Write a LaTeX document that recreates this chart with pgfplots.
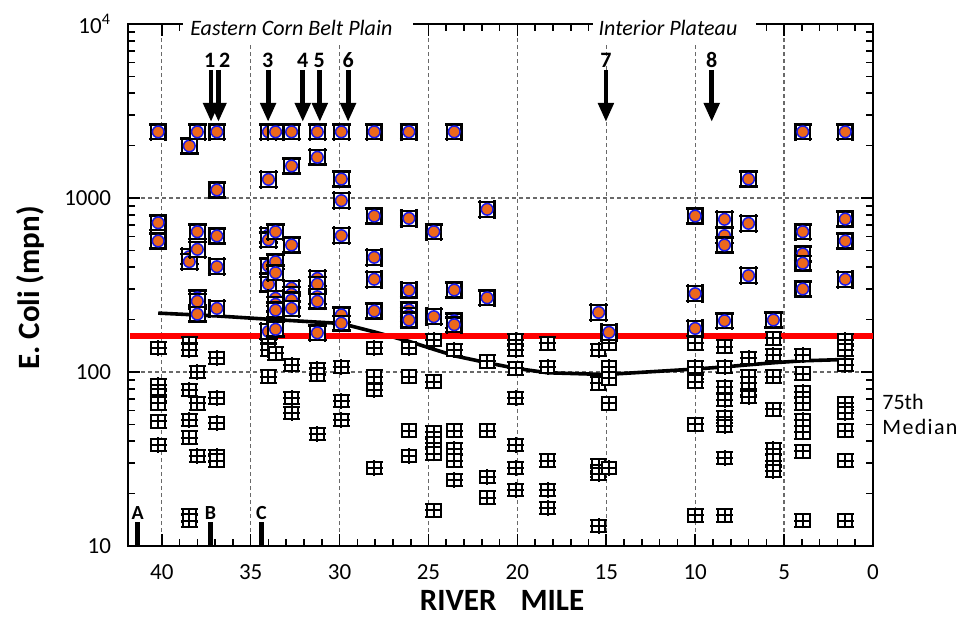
\documentclass[border=0pt]{standalone}
\usepackage{fontspec}
\setmainfont{Carlito}
\usepackage{pgfplots}
\pgfplotsset{compat=1.18}
\usepackage{pgfplotstable}
\usetikzlibrary{arrows.meta}

\definecolor{ecorange}{RGB}{236,104,28}
\definecolor{ecblue}{RGB}{25,25,235}
\definecolor{gridgray}{RGB}{105,105,105}

% exceedance: white box, orange dot with blue rim
\pgfdeclareplotmark{ecoli}{%
  \pgfsetfillcolor{white}\pgfsetstrokecolor{black}\pgfsetlinewidth{1.2pt}%
  \pgfpathrectangle{\pgfqpoint{-3.7pt}{-3.7pt}}{\pgfqpoint{7.4pt}{7.4pt}}%
  \pgfusepathqfillstroke
  \pgfpathmoveto{\pgfqpoint{-4.6pt}{3.7pt}}\pgfpathlineto{\pgfqpoint{4.6pt}{3.7pt}}%
  \pgfpathmoveto{\pgfqpoint{-4.6pt}{-3.7pt}}\pgfpathlineto{\pgfqpoint{4.6pt}{-3.7pt}}%
  \pgfpathmoveto{\pgfqpoint{-3.7pt}{-4.6pt}}\pgfpathlineto{\pgfqpoint{-3.7pt}{4.6pt}}%
  \pgfpathmoveto{\pgfqpoint{3.7pt}{-4.6pt}}\pgfpathlineto{\pgfqpoint{3.7pt}{4.6pt}}%
  \pgfusepathqstroke
  \pgfsetfillcolor{ecorange}\pgfsetstrokecolor{ecblue}\pgfsetlinewidth{0.75pt}%
  \pgfpathcircle{\pgfpointorigin}{2.9pt}%
  \pgfusepathqfillstroke
}
% below the criterion: boxed cross
\pgfdeclareplotmark{nobox}{%
  \pgfsetfillcolor{white}\pgfsetstrokecolor{black}\pgfsetlinewidth{1pt}%
  \pgfpathrectangle{\pgfqpoint{-3.4pt}{-3.1pt}}{\pgfqpoint{6.8pt}{6.2pt}}%
  \pgfusepathqfillstroke
  \pgfpathmoveto{\pgfqpoint{-4.2pt}{3.1pt}}\pgfpathlineto{\pgfqpoint{4.2pt}{3.1pt}}%
  \pgfpathmoveto{\pgfqpoint{-4.2pt}{-3.1pt}}\pgfpathlineto{\pgfqpoint{4.2pt}{-3.1pt}}%
  \pgfpathmoveto{\pgfqpoint{-4.2pt}{0pt}}\pgfpathlineto{\pgfqpoint{4.2pt}{0pt}}%
  \pgfpathmoveto{\pgfqpoint{0pt}{-3.9pt}}\pgfpathlineto{\pgfqpoint{0pt}{3.9pt}}%
  \pgfusepathqstroke
}

% sample results above the criterion (river mile, mpn)
\pgfplotstableread{
mile val
40.2 2400
40.2 721
40.2 566
38.45 1991
38.45 460
38.45 431
38.0 2400
38.0 640
38.0 507
38.0 267
38.0 255
38.0 215
36.9 2400
36.9 1112
36.9 605
36.9 403
36.9 232
34.0 2400
34.0 1279
34.0 612
34.0 575
34.0 407
34.0 320
34.0 171
33.6 2400
33.6 640
33.6 430
33.6 372
33.6 265
33.6 245
33.6 227
33.6 176
32.7 2400
32.7 1528
32.7 537
32.7 303
32.7 280
32.7 259
32.7 232
31.25 2400
31.25 1714
31.25 345
31.25 320
31.25 271
31.25 255
31.25 168
29.9 2400
29.9 1285
29.9 966
29.9 608
29.9 213
29.9 191
28.05 2400
28.05 788
28.05 456
28.05 341
28.05 224
26.1 2400
26.1 764
26.1 295
26.1 227
26.1 212
26.1 199
24.7 640
24.7 208
23.55 2400
23.55 296
23.55 197
23.55 187
21.7 861
21.7 267
15.43 220
14.85 169
10.0 788
10.0 282
10.0 178
8.35 754
8.35 608
8.35 537
8.35 197
7.0 1285
7.0 715
7.0 358
5.6 199
3.95 2400
3.95 640
3.95 477
3.95 422
3.95 300
1.56 2400
1.56 757
1.56 566
1.56 341
}\exceed

% sample results below the criterion
\pgfplotstableread{
mile val
40.2 137
40.2 84
40.2 74
40.2 66
40.2 52
40.2 38
38.45 146
38.45 134
38.45 79
38.45 53
38.45 42
38.45 15
38.45 14
38.0 100
38.0 66
38.0 33
36.9 120
36.9 71
36.9 51
36.9 33
36.9 31
34.0 146
34.0 134
34.0 94
33.6 128
32.7 110
32.7 71
32.7 58
31.25 104
31.25 97
31.25 44
29.9 107
29.9 68
29.9 53
28.05 137
28.05 94
28.05 79
28.05 28
26.1 137
26.1 94
26.1 46
26.1 33
24.7 153
24.7 88
24.7 45
24.7 39
24.7 34
24.7 16
23.55 134
23.55 46
23.55 36
23.55 31
23.55 24
21.7 115
21.7 46
21.7 25
21.7 19
20.1 153
20.1 134
20.1 105
20.1 71
20.1 38
20.1 28
20.1 21
18.3 146
18.3 107
18.3 31
18.3 21
18.3 16.5
15.43 134
15.43 86
15.43 29
15.43 27
15.43 26
15.43 13
14.85 146
14.85 107
14.85 92
14.85 66
14.85 28
10.0 146
10.0 107
10.0 99
10.0 88
10.0 50
10.0 15
8.35 140
8.35 107
8.35 82
8.35 69
8.35 55
8.35 49
8.35 32
8.35 15
7.0 120
7.0 94
7.0 80
7.0 72
5.6 156
5.6 125
5.6 94
5.6 61
5.6 36
5.6 31
5.6 27
3.95 125
3.95 98
3.95 77
3.95 66
3.95 53
3.95 45
3.95 35
3.95 14
1.56 153
1.56 134
1.56 110
1.56 66
1.56 58
1.56 46
1.56 31
1.56 14
}\below

% site medians
\pgfplotstableread{
mile val
40.2 218
36.9 210
34.0 201
29.9 190
28.05 170
26.1 150
24.7 135
23.55 124
21.7 113
20.1 105
18.3 99
15.43 97
14.85 97
10.0 104
8.35 107
7.0 110
5.6 113
3.95 116
1.56 118
}\median

\begin{document}
\begin{tikzpicture}
\begin{axis}[
  at={(0,0)}, anchor=south west,
  scale only axis, width=372.5pt, height=261pt,
  x dir=reverse, xmin=0, xmax=41.9,
  ymode=log, ymin=10, ymax=10000,
  xtick={0,5,...,40}, minor x tick num=4,
  ytick={10,100,1000,10000},
  yticklabels={10,100,1000,10\textsuperscript{4}},
  tick align=inside,
  major tick length=6pt, minor tick length=3.5pt,
  grid=major,
  grid style={dash pattern=on 2pt off 1.5pt, gridgray, line width=0.6pt},
  axis line style={line width=1.1pt},
  every tick/.style={black, line width=0.8pt},
  tick label style={font=\fontsize{11.5}{13}\selectfont},
  /pgf/number format/assume math mode=true,
  xticklabel style={yshift=-6pt},
  yticklabel style={xshift=-5pt},
  clip=false,
]
\addplot[black, line width=1.8pt] table[x=mile, y=val] {\median};
\addplot[only marks, mark=nobox] table[x=mile, y=val] {\below};
\addplot[only marks, mark=ecoli] table[x=mile, y=val] {\exceed};
\addplot[red, line width=3pt] coordinates {(41.8,160) (0,160)};

% ecoregion labels over the top axis
\fill[white] (axis cs:38.82,11400) rectangle (axis cs:25.88,7780);
\fill[white] (axis cs:15.75,11400) rectangle (axis cs:6.58,7780);
\node[font=\itshape\fontsize{11}{12}\selectfont] at (axis cs:32.71,9450) {Eastern Corn Belt Plain};
\node[font=\itshape\fontsize{11}{12}\selectfont] at (axis cs:11.53,9450) {Interior Plateau};

% numbered sites
\foreach \xa/\xl/\lab in {37.23/37.3/1, 36.81/36.46/2, 34.02/34.04/3, 32.07/32.08/4,
                          31.11/31.15/5, 29.52/29.52/6, 15.02/15.02/7, 9.07/9.07/8}{
  \edef\temp{\noexpand\draw[line width=2.4pt, -{Triangle[width=7.5pt,length=9.5pt]}]
    (axis cs:\xa,5445) -- (axis cs:\xa,2735);
    \noexpand\node[font=\noexpand\bfseries\noexpand\fontsize{11}{12}\noexpand\selectfont]
    at (axis cs:\xl,6210) {\lab};}
  \temp
}

% A, B, C
\foreach \xa/\lab in {41.36/A, 37.26/B, 34.39/C}{
  \edef\temp{\noexpand\draw[line width=2.9pt] (axis cs:\xa,10) -- (axis cs:\xa,13.8);
    \noexpand\node[font=\noexpand\bfseries\noexpand\fontsize{10}{11}\noexpand\selectfont]
    at (axis cs:\xa,15.4) {\lab};}
  \temp
}
\end{axis}

\node[rotate=90, font=\bfseries\fontsize{15.5}{17}\selectfont] at (-49pt,129pt) {E. Coli (mpn)};
\node[font=\bfseries\fontsize{15.5}{17}\selectfont] at (187pt,-27pt) {RIVER\hspace{12pt}MILE};
\node[anchor=base west, font=\fontsize{11}{12}\selectfont, inner sep=0pt] at (377pt,68.5pt) {75th};
\node[anchor=base west, font=\fontsize{11}{12}\selectfont\addfontfeatures{LetterSpace=6}, inner sep=0pt] at (377pt,56pt) {Median};

\pgfresetboundingbox
\path[use as bounding box] (-64pt,-41.5pt) rectangle (415.5pt,273pt);
\end{tikzpicture}
\end{document}
